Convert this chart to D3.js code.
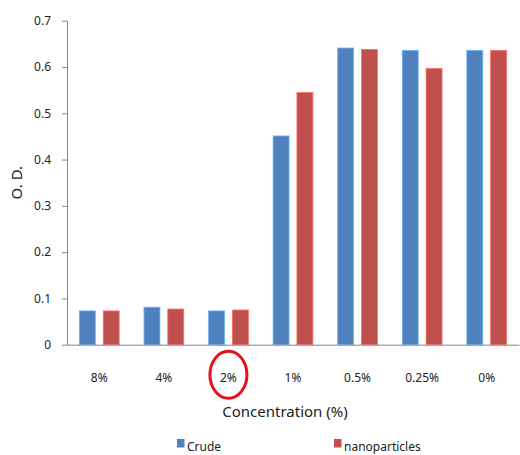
<!DOCTYPE html>
<html>
<head>
<meta charset="utf-8">
<script src="https://cdn.jsdelivr.net/npm/d3@7"></script>
<style>
body{margin:0;background:#fff;}
text{font-family:"Noto Sans",sans-serif;fill:#222;}
</style>
</head>
<body>
<div id="chart"></div>
<script>
const categories=["8%","4%","2%","1%","0.5%","0.25%","0%"];
const seriesNames=["Crude","nanoparticles"];
const crude=[0.073,0.081,0.073,0.451,0.641,0.636,0.636];
const nano=[0.073,0.077,0.075,0.545,0.638,0.597,0.636];
const yTicks=[0,0.1,0.2,0.3,0.4,0.5,0.6,0.7];
const colors=["#4F81BD","#C0504D"];
const highlighted="2%";

const width=520, height=455;
const margin_left=67, margin_right=1, margin_top=20.7, margin_bottom=110.3;

const svg=d3.select("#chart").append("svg")
  .attr("width",width).attr("height",height);

let x_scale=d3.scaleBand()
  .domain(categories)
  .range([margin_left,width-margin_right]);

let x_inner=d3.scaleBand()
  .domain(seriesNames)
  .range([0,x_scale.bandwidth()])
  .paddingInner(0.33)
  .paddingOuter(0.52);

let y_scale=d3.scaleLinear()
  .domain([0,0.7])
  .range([height-margin_bottom,margin_top]);

// bars
let rows=categories.map((c,i)=>({category:c,values:[crude[i],nano[i]]}));
svg.selectAll("g.cat")
  .data(rows)
  .enter()
  .append("g")
  .attr("transform",d=>"translate("+x_scale(d.category)+",0)")
  .selectAll("rect")
  .data(d=>d.values.map((v,j)=>({name:seriesNames[j],value:v,j:j})))
  .enter()
  .append("rect")
  .attr("x",d=>x_inner(d.name))
  .attr("width",x_inner.bandwidth())
  .attr("y",d=>y_scale(d.value))
  .attr("height",d=>y_scale(0)-y_scale(d.value))
  .style("fill",d=>colors[d.j])
  .attr("stroke",d=>d3.color(colors[d.j]).brighter(0.9))
  .attr("stroke-width",0.8);

// y axis
let yAxis=svg.append("g")
  .attr("transform","translate("+margin_left+",0)")
  .call(d3.axisLeft(y_scale).tickValues(yTicks).tickFormat(d=>d===0?"0":d3.format(".1f")(d)).tickSize(5).tickSizeOuter(0));
yAxis.selectAll("text").attr("dx","-8").style("font-size","12px");

// x axis
let xAxis=svg.append("g")
  .attr("transform","translate(0,"+y_scale(0)+")")
  .call(d3.axisBottom(x_scale).tickSize(0).tickSizeOuter(0));
xAxis.selectAll("text").attr("dy","34").style("font-size","12px");
xAxis.selectAll(".tick line").remove();
xAxis.selectAll("line.sep")
  .data(categories)
  .enter()
  .append("line")
  .attr("x1",d=>x_scale(d)).attr("x2",d=>x_scale(d))
  .attr("y1",0).attr("y2",6);

svg.selectAll(".domain, .tick line, line.sep").attr("stroke","#868686");

// highlight circle
svg.append("ellipse")
  .attr("cx",x_scale(highlighted)+x_scale.bandwidth()/2)
  .attr("cy",y_scale(0)+30)
  .attr("rx",18.5).attr("ry",23.5)
  .attr("fill","none").attr("stroke","#e8101a").attr("stroke-width",3);

// axis titles
svg.append("text")
  .attr("x",(margin_left+width-margin_right)/2-8)
  .attr("y",417)
  .attr("text-anchor","middle")
  .style("font-size","15px")
  .text("Concentration (%)");

svg.append("text")
  .attr("transform","translate(22,"+(y_scale(0.35)+0)+") rotate(-90)")
  .attr("text-anchor","middle")
  .style("font-size","15px")
  .text("O. D.");

// legend
let legend=svg.selectAll("g.legend")
  .data(seriesNames)
  .enter()
  .append("g")
  .attr("transform",(d,i)=>"translate("+(177+i*157)+",439)");
legend.append("rect").attr("width",7.5).attr("height",8.5).style("fill",(d,i)=>colors[i]);
legend.append("text").attr("x",10).attr("y",12).style("font-size","12px").text(d=>d);
</script>
</body>
</html>
